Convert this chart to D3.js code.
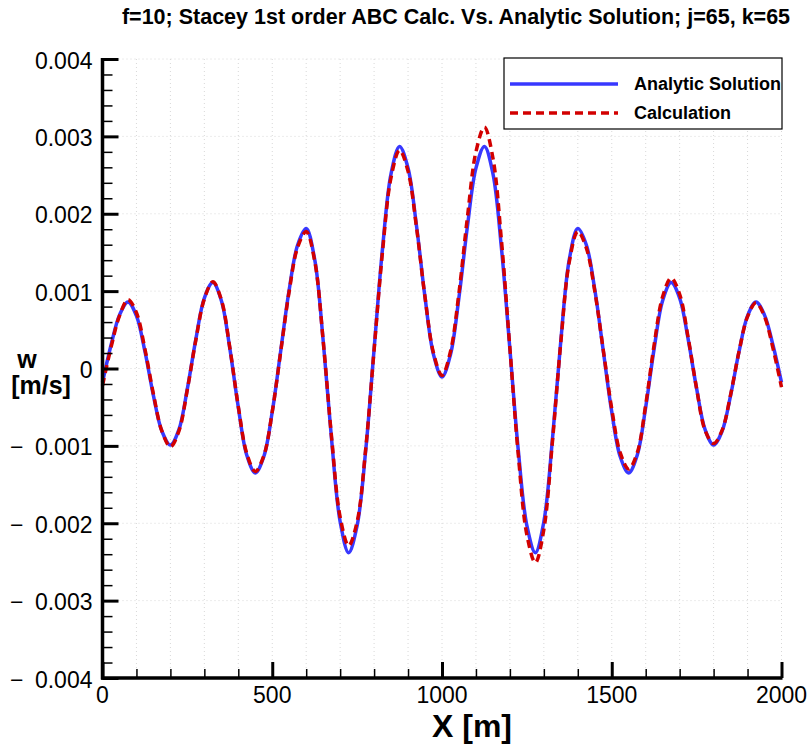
<!DOCTYPE html>
<html>
<head>
<meta charset="utf-8">
<script src="https://cdn.jsdelivr.net/npm/d3@7"></script>
<style>
  body { margin: 0; background: #fff; }
  svg text { font-family: "Liberation Sans", Arial, sans-serif; }
</style>
</head>
<body>
<div id="wrapper"></div>
<script>
// x positions [m], one every 25 m
const xValues = [0,25,50,75,100,125,150,175,200,225,250,275,300,325,350,375,400,425,450,475,
  500,525,550,575,600,625,650,675,700,725,750,775,800,825,850,875,900,925,950,975,
  1000,1025,1050,1075,1100,1125,1150,1175,1200,1225,1250,1275,1300,1325,1350,1375,1400,1425,1450,1475,
  1500,1525,1550,1575,1600,1625,1650,1675,1700,1725,1750,1775,1800,1825,1850,1875,1900,1925,1950,1975,2000];

// w [m/s]
const analyticValues = [-0.00018,0.00030,0.00069,0.00086,0.00068,0.00022,-0.00035,-0.00081,-0.00099,-0.00079,
  -0.00026,0.00038,0.00091,0.00111,0.00088,0.00026,-0.00050,-0.00112,-0.00135,-0.00114,
  -0.00056,0.00023,0.00102,0.00160,0.00181,0.00141,0.00036,-0.00093,-0.00198,-0.00238,
  -0.00203,-0.00107,0.00025,0.00156,0.00252,0.00287,0.00259,0.00184,0.00092,0.00018,
  -0.00011,0.00018,0.00092,0.00184,0.00259,0.00287,0.00252,0.00156,0.00025,-0.00107,
  -0.00203,-0.00238,-0.00198,-0.00093,0.00036,0.00141,0.00181,0.00160,0.00102,0.00023,
  -0.00056,-0.00114,-0.00135,-0.00112,-0.00050,0.00026,0.00088,0.00111,0.00091,0.00038,
  -0.00026,-0.00079,-0.00099,-0.00081,-0.00035,0.00022,0.00068,0.00086,0.00069,0.00030,-0.00018];

const calcValues = [-0.00022,0.00027,0.00068,0.00089,0.00072,0.00025,-0.00033,-0.00081,-0.00101,-0.00081,
  -0.00027,0.00037,0.00090,0.00112,0.00089,0.00027,-0.00049,-0.00110,-0.00133,-0.00113,
  -0.00056,0.00022,0.00100,0.00157,0.00177,0.00139,0.00036,-0.00090,-0.00192,-0.00229,
  -0.00198,-0.00105,0.00024,0.00152,0.00247,0.00282,0.00255,0.00182,0.00092,0.00020,
  -0.00009,0.00022,0.00098,0.00196,0.00280,0.00312,0.00272,0.00166,0.00026,-0.00113,
  -0.00215,-0.00251,-0.00208,-0.00096,0.00034,0.00138,0.00177,0.00156,0.00100,0.00024,
  -0.00052,-0.00109,-0.00130,-0.00109,-0.00047,0.00031,0.00093,0.00117,0.00096,0.00040,
  -0.00026,-0.00080,-0.00097,-0.00080,-0.00034,0.00022,0.00067,0.00085,0.00067,0.00026,-0.00024];

const xMajorTicks = [0, 500, 1000, 1500, 2000];
const yMajorTicks = [-0.004, -0.003, -0.002, -0.001, 0, 0.001, 0.002, 0.003, 0.004];
const seriesNames = ["Analytic Solution", "Calculation"];

function buildPlot() {
    const analytic = xValues.map((x, i) => ({x: x, w: analyticValues[i]}));
    const calc = xValues.map((x, i) => ({x: x, w: calcValues[i]}));

    var dimension = {
        width: 811,
        height: 751,
        margin: {top: 59, left: 102.5, bottom: 73, right: 29.5}
    };
    dimension.boundedWidth = dimension.width - dimension.margin.left - dimension.margin.right;
    dimension.boundedHeight = dimension.height - dimension.margin.top - dimension.margin.bottom;

    const svg = d3.select("#wrapper").append("svg")
        .attr("width", dimension.width)
        .attr("height", dimension.height);

    const bounded = svg.append("g")
        .attr("transform", `translate(${dimension.margin.left}, ${dimension.margin.top})`);

    const xScaler = d3.scaleLinear()
        .domain([0, 2000])
        .range([0, dimension.boundedWidth]);
    const yScaler = d3.scaleLinear()
        .domain([-0.004, 0.004])
        .range([dimension.boundedHeight, 0]);

    // dotted grid
    const grid = bounded.append("g")
        .attr("stroke", "#d8d8d8")
        .attr("stroke-width", 1)
        .attr("stroke-dasharray", "1,3");
    grid.selectAll(".vg").data(d3.range(100, 2001, 100)).join("line")
        .attr("x1", d => xScaler(d)).attr("x2", d => xScaler(d))
        .attr("y1", 0).attr("y2", dimension.boundedHeight);
    grid.selectAll(".hg").data(yMajorTicks.slice(1)).join("line")
        .attr("x1", 0).attr("x2", dimension.boundedWidth)
        .attr("y1", d => yScaler(d)).attr("y2", d => yScaler(d));

    // lines
    const line = d3.line()
        .x(d => xScaler(d.x))
        .y(d => yScaler(d.w))
        .curve(d3.curveCatmullRom.alpha(0.5));

    bounded.append("path")
        .attr("d", line(analytic))
        .attr("fill", "none")
        .attr("stroke", "#3838ff")
        .attr("stroke-width", 3.5)
        .attr("stroke-linejoin", "round");

    bounded.append("path")
        .attr("d", line(calc))
        .attr("fill", "none")
        .attr("stroke", "#d20000")
        .attr("stroke-width", 3.5)
        .attr("stroke-dasharray", "8,5");

    // axes: ticks point inward
    const xAxis = d3.axisTop(xScaler).tickValues(xMajorTicks).tickSize(16).tickFormat("");
    const xMinor = d3.axisTop(xScaler).tickValues(d3.range(0, 2001, 100).filter(v => v % 500 !== 0))
        .tickSize(9).tickFormat("");
    const yAxis = d3.axisRight(yScaler).tickValues(yMajorTicks).tickSize(16).tickFormat("");
    const yMinor = d3.axisRight(yScaler).tickValues(d3.range(-40, 41, 2).filter(v => v % 10 !== 0).map(v => v / 10000))
        .tickSize(10).tickFormat("");

    const gx = bounded.append("g").attr("transform", `translate(0, ${dimension.boundedHeight})`).call(xAxis);
    gx.selectAll("line").attr("stroke", "#000").attr("stroke-width", 3);
    gx.select(".domain").remove();
    const gxm = bounded.append("g").attr("transform", `translate(0, ${dimension.boundedHeight})`).call(xMinor);
    gxm.selectAll("line").attr("stroke", "#000").attr("stroke-width", 1.5);
    gxm.select(".domain").remove();

    const gy = bounded.append("g").call(yAxis);
    gy.selectAll("line").attr("stroke", "#000").attr("stroke-width", 3);
    gy.select(".domain").remove();
    const gym = bounded.append("g").call(yMinor);
    gym.selectAll("line").attr("stroke", "#000").attr("stroke-width", 1.5);
    gym.select(".domain").remove();

    // axis lines
    bounded.append("line")
        .attr("x1", 0).attr("x2", 0)
        .attr("y1", -1).attr("y2", dimension.boundedHeight + 1.5)
        .attr("stroke", "#000").attr("stroke-width", 3.5);
    bounded.append("line")
        .attr("x1", -1.5).attr("x2", dimension.boundedWidth + 1)
        .attr("y1", dimension.boundedHeight).attr("y2", dimension.boundedHeight)
        .attr("stroke", "#000").attr("stroke-width", 3.5);

    // tick labels
    bounded.selectAll(".xl").data(xMajorTicks).join("text")
        .attr("x", d => xScaler(d))
        .attr("y", dimension.boundedHeight + 25)
        .attr("text-anchor", "middle")
        .style("font-size", "23px")
        .text(d => d);

    bounded.selectAll(".yl").data(yMajorTicks).join("text")
        .attr("x", -10)
        .attr("y", d => yScaler(d) + 9.5)
        .attr("text-anchor", "end")
        .style("font-size", "23px")
        .text(d => d === 0 ? "0" : (d < 0 ? "\u2212\u2002" : "") + d3.format(".3f")(Math.abs(d)));

    // axis titles
    svg.append("text")
        .attr("x", 432).attr("y", 737)
        .style("font-size", "32px").style("font-weight", "bold")
        .text("X [m]");
    svg.append("text")
        .attr("x", 27).attr("y", 368)
        .attr("text-anchor", "middle")
        .style("font-size", "25px").style("font-weight", "bold")
        .text("w");
    svg.append("text")
        .attr("x", 41).attr("y", 394)
        .attr("text-anchor", "middle")
        .style("font-size", "25px").style("font-weight", "bold")
        .text("[m/s]");

    // title
    svg.append("text")
        .attr("x", 456).attr("y", 24)
        .attr("text-anchor", "middle")
        .style("font-size", "21.5px").style("font-weight", "bold")
        .text("f=10; Stacey 1st order ABC Calc. Vs. Analytic Solution; j=65, k=65");

    // legend
    const legend = svg.append("g").attr("transform", "translate(504, 58)");
    legend.append("rect")
        .attr("width", 278).attr("height", 71)
        .attr("fill", "#fff").attr("stroke", "#000").attr("stroke-width", 1.2);
    const items = legend.selectAll(".item").data(seriesNames).join("g")
        .attr("transform", (d, i) => `translate(0, ${26 + i * 29})`);
    items.append("line")
        .attr("x1", 6).attr("x2", 114)
        .attr("stroke", (d, i) => i === 0 ? "#3838ff" : "#d20000")
        .attr("stroke-width", 3.5)
        .attr("stroke-dasharray", (d, i) => i === 0 ? null : "8,5");
    items.append("text")
        .attr("x", 130).attr("y", 6)
        .style("font-size", "18px").style("font-weight", "bold")
        .text(d => d);
}

buildPlot();
</script>
</body>
</html>
